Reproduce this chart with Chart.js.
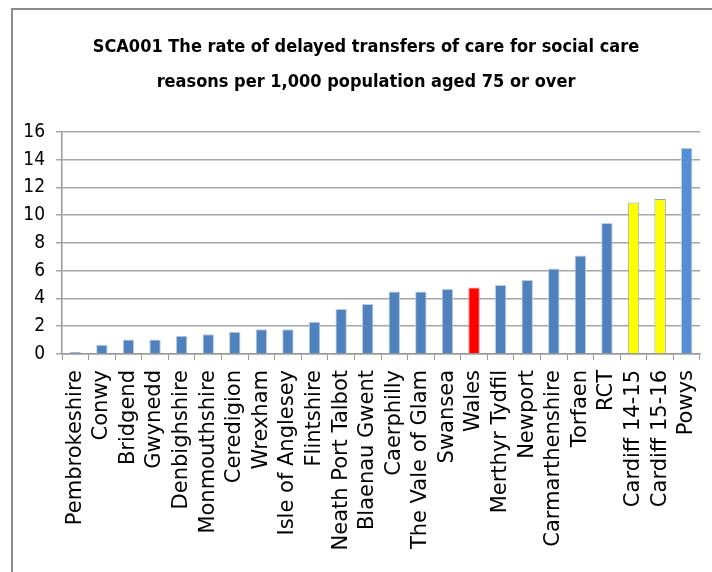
<!DOCTYPE html>
<html>
<head>
<meta charset="utf-8">
<script src="https://cdn.jsdelivr.net/npm/chart.js@4"></script>
<style>
  body { margin: 0; background: #fff; overflow: hidden; }
  .frame { position: absolute; left: 11px; top: 8px; width: 800px; height: 700px;
           border-left: 2px solid #8c8c8c; border-top: 2px solid #8c8c8c; }
  #wrap { position: absolute; left: 0; top: 0; width: 712px; height: 572px; }
</style>
</head>
<body>
<div class="frame"></div>
<div id="wrap"><canvas id="myChart" width="712" height="572"></canvas></div>
<script>
// categories and values (rate per 1,000 population aged 75+)
var areas = ['Pembrokeshire', 'Conwy', 'Bridgend', 'Gwynedd', 'Denbighshire', 'Monmouthshire',
    'Ceredigion', 'Wrexham', 'Isle of Anglesey', 'Flintshire', 'Neath Port Talbot', 'Blaenau Gwent',
    'Caerphilly', 'The Vale of Glam', 'Swansea', 'Wales', 'Merthyr Tydfil', 'Newport',
    'Carmarthenshire', 'Torfaen', 'RCT', 'Cardiff 14-15', 'Cardiff 15-16', 'Powys'];
var rates = [0.15, 0.67, 1.05, 1.05, 1.32, 1.42, 1.61, 1.78, 1.78, 2.33, 3.24, 3.60,
    4.51, 4.51, 4.68, 4.80, 4.97, 5.33, 6.17, 7.09, 9.44, 10.91, 11.17, 14.85];
var yTicks = [0, 2, 4, 6, 8, 10, 12, 14, 16];

var titleLines = ['SCA001 The rate of delayed transfers of care for social care',
    'reasons per 1,000 population aged 75 or over'];

var narrow = "'DejaVu Sans Condensed', 'Liberation Sans', sans-serif";

// colour per bar: Wales red, Cardiff yellow, Powys lighter blue
var fillColors = areas.map(function (a) {
    if (a === 'Wales') return '#FF0000';
    if (a.indexOf('Cardiff') === 0) return '#FFFF00';
    if (a === 'Powys') return '#558ED5';
    return '#4F81BD';
});
var edgeColors = areas.map(function (a) {
    if (a === 'Wales') return '#FF8080';
    if (a.indexOf('Cardiff') === 0) return '#8EA4BF';
    return '#B9CDE5';
});

// title in the original sits a bit right of the canvas centre
var nudgeTitle = {
    id: 'nudgeTitle',
    afterLayout: function (chart) {
        if (chart.titleBlock) chart.titleBlock.left += 12;
    }
};

var ctx = document.getElementById('myChart').getContext('2d');
var myChart = new Chart(ctx, {
    type: 'bar',
    data: {
        labels: areas,
        datasets: [{
            data: rates,
            backgroundColor: fillColors,
            borderColor: edgeColors,
            borderWidth: 1,
            categoryPercentage: 1,
            barPercentage: 0.43
        }]
    },
    options: {
        responsive: false,
        animation: false,
        layout: { padding: { left: 20, right: 12, top: 0, bottom: 0 } },
        plugins: {
            legend: { display: false },
            tooltip: { enabled: false },
            title: {
                display: true,
                text: titleLines,
                color: '#000',
                font: { family: narrow, size: 18, weight: 'bold', lineHeight: 1.944 },
                padding: { top: 29.5, bottom: 32.5 }
            }
        },
        scales: {
            x: {
                afterFit: function (s) {
                    s.height = 218;
                    s.paddingLeft = 0;
                    s.paddingRight = 0;
                },
                grid: { drawOnChartArea: false, color: '#999', tickLength: 6, lineWidth: 1 },
                border: { color: '#999', width: 1.5 },
                ticks: {
                    minRotation: 90, maxRotation: 90, autoSkip: false,
                    color: '#000', padding: 10,
                    font: { family: "'DejaVu Sans', sans-serif", size: 21 }
                }
            },
            y: {
                min: 0, max: 16,
                afterFit: function (s) { s.width = 42; },
                afterBuildTicks: function (s) { s.ticks = yTicks.map(function (v) { return { value: v }; }); },
                grid: { color: '#A6A6A6', lineWidth: 1.5, tickLength: 6 },
                border: { color: '#999', width: 1.5 },
                ticks: {
                    color: '#000', padding: 11,
                    font: { family: narrow, size: 19 }
                }
            }
        }
    },
    plugins: [nudgeTitle]
});
</script>
</body>
</html>
